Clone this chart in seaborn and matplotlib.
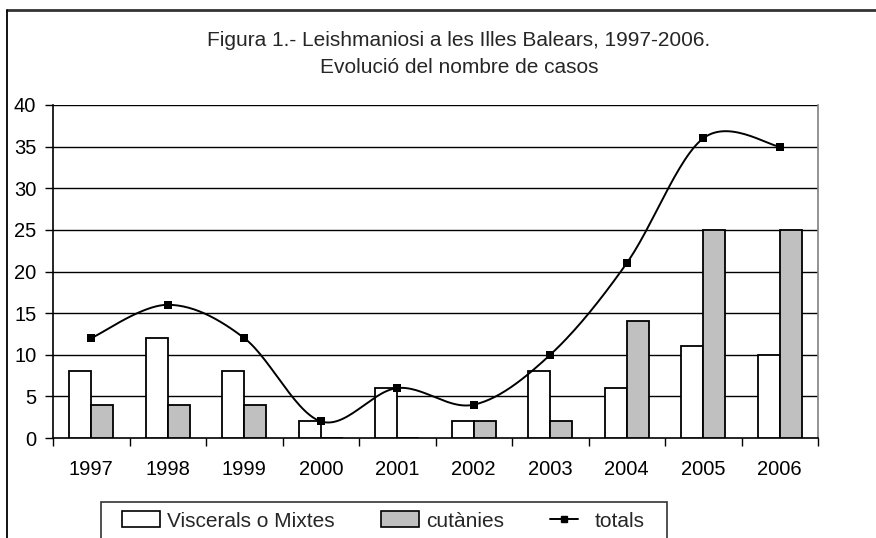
import numpy as np
import pandas as pd
import matplotlib
matplotlib.use("Agg")
import matplotlib.pyplot as plt
import seaborn as sns
from matplotlib.lines import Line2D
from matplotlib.patches import Patch, Rectangle
from matplotlib.legend_handler import HandlerLine2D

years = ["1997", "1998", "1999", "2000", "2001", "2002", "2003", "2004", "2005", "2006"]
viscerals = [8, 12, 8, 2, 6, 2, 8, 6, 11, 10]
cutanies = [4, 4, 4, 0, 0, 2, 2, 14, 25, 25]
totals = [12, 16, 12, 2, 6, 4, 10, 21, 36, 35]
series_names = ["Viscerals o Mixtes", "cutànies", "totals"]
title_lines = ["Figura 1.- Leishmaniosi a les Illes Balears, 1997-2006.",
               "Evolució del nombre de casos"]

sns.set_theme(style="white")
plt.rcParams["font.family"] = ["Liberation Sans", "DejaVu Sans"]

W, H = 876, 538
FS_TICK = 14.5
FS_TITLE = 15
FS_LEG = 15
fig = plt.figure(figsize=(W / 100, H / 100), dpi=100)
ax = fig.add_axes([53 / W, 1 - 438 / H, (818 - 53) / W, (438 - 105) / H])

df = pd.DataFrame({
    "year": years * 2,
    "value": viscerals + cutanies,
    "serie": [series_names[0]] * len(years) + [series_names[1]] * len(years),
})
sns.barplot(data=df, x="year", y="value", hue="serie", order=years,
            hue_order=series_names[:2], palette=["white", "#C0C0C0"],
            width=0.58, gap=0, edgecolor="black", linewidth=1.3,
            saturation=1, ax=ax, legend=False, zorder=3)

# Smoothed line (Excel-style Bezier smoothing through the data points)
xs = np.arange(len(totals), dtype=float)
ys = np.array(totals, dtype=float)
cx, cy = [], []
t = np.linspace(0, 1, 30)
n = len(xs)
for i in range(n - 1):
    p0 = np.array([xs[i], ys[i]])
    p3 = np.array([xs[i + 1], ys[i + 1]])
    pm = np.array([xs[i - 1], ys[i - 1]]) if i > 0 else p0
    pn = np.array([xs[i + 2], ys[i + 2]]) if i + 2 < n else p3
    c1 = p0 + (p3 - pm) / 6
    c2 = p3 - (pn - p0) / 6
    seg = ((1 - t) ** 3)[:, None] * p0 + (3 * (1 - t) ** 2 * t)[:, None] * c1 \
        + (3 * (1 - t) * t ** 2)[:, None] * c2 + (t ** 3)[:, None] * p3
    cx.extend(seg[:, 0]); cy.extend(seg[:, 1])
ax.plot(cx, cy, color="black", lw=1.4, zorder=4)
sns.scatterplot(x=xs, y=ys, marker="s", color="black", s=30, ax=ax,
                zorder=5, linewidth=0, legend=False)

ax.set_xlim(-0.5, 9.5)
ax.set_ylim(0, 40)
ax.set_yticks(np.arange(0, 41, 5))
ax.set_yticklabels([str(v) for v in range(0, 41, 5)])
ax.set_xticks(np.arange(-0.5, 10, 1))
ax.set_xticklabels([])
ax.set_xticks(xs, minor=True)
ax.set_xticklabels(years, minor=True)
ax.tick_params(axis="x", which="major", length=6, width=1, color="black", direction="out", bottom=True)
ax.tick_params(axis="x", which="minor", length=0, pad=16, labelsize=FS_TICK, labelcolor="black")
ax.tick_params(axis="y", length=6, width=1, color="black", direction="out", left=True, pad=6,
               labelsize=FS_TICK, labelcolor="black")
ax.set_xlabel("")
ax.set_ylabel("")
ax.grid(False)
for v in range(5, 41, 5):
    ax.axhline(v, color="black", lw=1, zorder=1)
for s in ["left", "bottom"]:
    ax.spines[s].set_color("black")
    ax.spines[s].set_linewidth(1.2)
ax.spines["top"].set_visible(False)
ax.spines["right"].set_color("#808080")
ax.spines["right"].set_linewidth(1.2)
ax.set_facecolor("white")

# Title
fig.text(459 / W, 1 - 46 / H, title_lines[0], ha="center", va="baseline", fontsize=FS_TITLE)
fig.text(459 / W, 1 - 73 / H, title_lines[1], ha="center", va="baseline", fontsize=FS_TITLE)

# Outer chart frame
fig.add_artist(Line2D([7 / W, 1], [1 - 10 / H, 1 - 10 / H], transform=fig.transFigure,
                      color="#333333", lw=2))
fig.add_artist(Line2D([7 / W, 7 / W], [0, 1 - 10 / H], transform=fig.transFigure,
                      color="black", lw=1.3))

# Legend frame
fig.add_artist(Rectangle((101 / W, -0.05), (667 - 101) / W, 1 - 502 / H + 0.05,
                         transform=fig.transFigure, facecolor="white",
                         edgecolor="#333333", lw=1.2, zorder=0))


class ShortLine(HandlerLine2D):
    def create_artists(self, legend, orig_handle, xdescent, ydescent, width, height,
                       fontsize, trans):
        return super().create_artists(legend, orig_handle, xdescent, ydescent,
                                      width * 0.74, height, fontsize, trans)


handles = [Patch(facecolor="white", edgecolor="black", lw=1.2),
           Patch(facecolor="#C0C0C0", edgecolor="black", lw=1.2),
           Line2D([0], [0], color="black", lw=1.4, marker="s", markersize=5)]
leg = fig.legend(handles, series_names, ncol=3, loc="center left",
                 bbox_to_anchor=(122 / W, 1 - 521 / H), frameon=False,
                 fontsize=FS_LEG, handlelength=1.83, handleheight=0.77, handletextpad=0.34,
                 columnspacing=2.2, borderpad=0, borderaxespad=0,
                 handler_map={handles[2]: ShortLine()})

fig.savefig("out.png", dpi=100, facecolor="white")
